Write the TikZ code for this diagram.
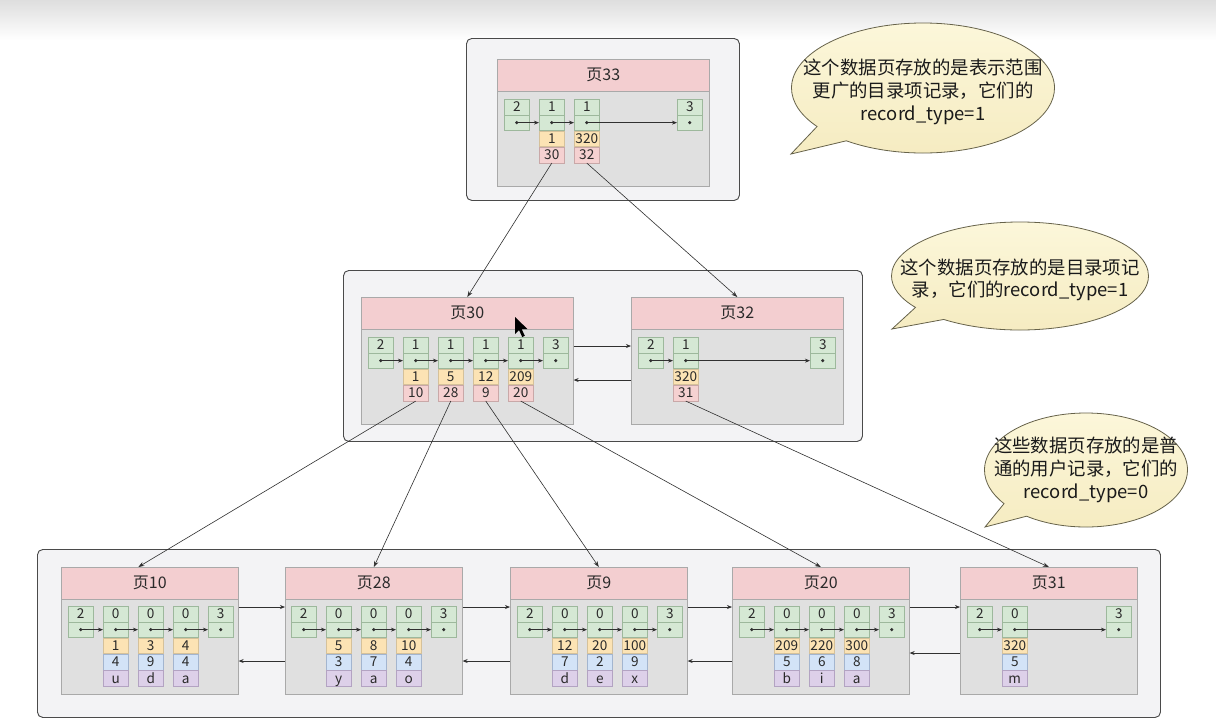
\documentclass[tikz,border=0pt]{standalone}
\usepackage{fontspec}
\setmainfont{Noto Sans CJK SC}
\usetikzlibrary{calc,arrows.meta,shapes.geometric,shapes.callouts}
\definecolor{headf}{HTML}{F3CED0}
\definecolor{pageb}{HTML}{A9A9A9}
\definecolor{bodyf}{HTML}{E0E0E0}
\definecolor{gf}{HTML}{D5E8D4}
\definecolor{gb}{HTML}{9DB89C}
\definecolor{yf}{HTML}{FCE3B4}
\definecolor{yb}{HTML}{D5C19A}
\definecolor{pf}{HTML}{F5D1D1}
\definecolor{pb}{HTML}{C9A8A8}
\definecolor{bf}{HTML}{D3E3F7}
\definecolor{bb}{HTML}{A3B5CF}
\definecolor{vf}{HTML}{DDD0E9}
\definecolor{vb}{HTML}{B3A3C2}
\definecolor{contf}{HTML}{F3F3F5}
\definecolor{contb}{HTML}{4A4A4A}
\definecolor{arrc}{HTML}{303030}
\definecolor{txt}{HTML}{2A2A2A}
\definecolor{bubt}{HTML}{FCF7DA}
\definecolor{bubbo}{HTML}{F5EBC0}
\definecolor{bubb}{HTML}{66624A}
\definecolor{btxt}{HTML}{1A1A1A}
\newcommand\numfont{\fontsize{10.2}{11}\selectfont}
\newcommand\gcell[4]{%
  \node[gbox] (#1) at (#2,#3) {};
  \draw[draw=gb, line width=0.4pt] (#1.west) -- (#1.east);
  \node[num] (#1t) at ($(#1.north)!0.25!(#1.south)$) {#4};
  \coordinate (#1d) at ($(#1.north)!0.75!(#1.south)$);
  \fill[arrc] (#1d) circle (1.7);
}
\newcommand\subc[4]{\node[#3] (#1) at (#2.south) {#4};}
\newcommand\chain[2]{\draw[iarr] (#1d) -- (#2.west |- #1d);}
\newcommand\pagebox[5]{%
  \node[pbody, minimum width=#4*0.75pt] (b#1) at (#2,#3+32) {};
  \node[phead, minimum width=#4*0.75pt] (h#1) at (#2,#3) {#5};
}
\begin{document}
\begin{tikzpicture}[x=0.75pt,y=-0.75pt,
  cont/.style={draw=contb, fill=contf, rounded corners=4pt, line width=0.7pt, anchor=north west, inner sep=0},
  phead/.style={draw=pageb, fill=headf, anchor=north west, inner sep=0, line width=0.45pt, minimum height=24pt, font=\fontsize{12}{14}\selectfont, text=txt},
  pbody/.style={draw=pageb, fill=bodyf, anchor=north west, inner sep=0, line width=0.45pt, minimum height=71.25pt},
  gbox/.style={draw=gb, fill=gf, minimum width=18.75pt, minimum height=23.25pt, anchor=north west, inner sep=0, line width=0.4pt},
  num/.style={font=\numfont, inner sep=0, text=txt, text height=7.2pt, text depth=0pt},
  sub/.style={minimum width=18.75pt, minimum height=11.8pt, anchor=north, inner sep=0, line width=0.4pt, font=\numfont, text=txt, text height=7.2pt, text depth=0pt},
  ycell/.style={sub, draw=yb, fill=yf},
  pcell/.style={sub, draw=pb, fill=pf},
  bcell/.style={sub, draw=bb, fill=bf},
  vcell/.style={sub, draw=vb, fill=vf},
  iarr/.style={draw=arrc, line width=0.5pt, -{Stealth[length=3.8pt,width=3pt]}},
  conn/.style={draw=arrc, line width=0.45pt, -{Stealth[length=4.5pt,width=3.2pt]}},
  bubble/.style={ellipse callout, draw=bubb, line width=0.6pt, top color=bubt, bottom color=bubbo, inner sep=0, callout pointer arc=18},
  bubtext/.style={align=center, font=\fontsize{13.8}{17}\selectfont, text=btxt, inner sep=0}
]
\useasboundingbox (0,0) rectangle (1216,725);
\fill[white] (0,0) rectangle (1216,725);
\shade[top color=black!13, bottom color=white] (0,0) rectangle (1216,40);

% containers
\node[cont, minimum width=273*0.75pt, minimum height=162*0.75pt] (C1) at (466,38) {};
\node[cont, minimum width=519*0.75pt, minimum height=171*0.75pt] (C2) at (343,270) {};
\node[cont, minimum width=1123*0.75pt, minimum height=168*0.75pt] (C3) at (37,549) {};

% ---------- page 33 ----------
\pagebox{33}{497}{59}{212}{页33}
\gcell{g33a}{504}{99}{2}
\gcell{g33b}{539}{99}{1}
\gcell{g33c}{574}{99}{1}
\gcell{g33d}{677}{99}{3}
\subc{y33b}{g33b}{ycell}{1}\subc{p33b}{y33b}{pcell}{30}
\subc{y33c}{g33c}{ycell}{320}\subc{p33c}{y33c}{pcell}{32}
\chain{g33a}{g33b}\chain{g33b}{g33c}\chain{g33c}{g33d}

% ---------- page 30 ----------
\pagebox{30}{361}{297}{212}{页30}
\gcell{g30a}{368}{337}{2}
\gcell{g30b}{403}{337}{1}
\gcell{g30c}{438}{337}{1}
\gcell{g30d}{473}{337}{1}
\gcell{g30e}{508}{337}{1}
\gcell{g30f}{543}{337}{3}
\subc{y30b}{g30b}{ycell}{1}\subc{p30b}{y30b}{pcell}{10}
\subc{y30c}{g30c}{ycell}{5}\subc{p30c}{y30c}{pcell}{28}
\subc{y30d}{g30d}{ycell}{12}\subc{p30d}{y30d}{pcell}{9}
\subc{y30e}{g30e}{ycell}{209}\subc{p30e}{y30e}{pcell}{20}
\chain{g30a}{g30b}\chain{g30b}{g30c}\chain{g30c}{g30d}\chain{g30d}{g30e}\chain{g30e}{g30f}

% ---------- page 32 ----------
\pagebox{32}{631}{297}{212}{页32}
\gcell{g32a}{638}{337}{2}
\gcell{g32b}{673}{337}{1}
\gcell{g32c}{810}{337}{3}
\subc{y32b}{g32b}{ycell}{320}\subc{p32b}{y32b}{pcell}{31}
\chain{g32a}{g32b}\chain{g32b}{g32c}

\draw[iarr] ($(b30.north east)+(0,17)$) -- ($(b32.north west)+(0,17)$);
\draw[iarr] ($(b32.north west)+(0,51)$) -- ($(b30.north east)+(0,51)$);

% ---------- page 10 ----------
\pagebox{10}{61}{567}{177}{页10}
\gcell{g10a}{68}{606}{2}
\gcell{g10b}{103}{606}{0}
\gcell{g10c}{138}{606}{0}
\gcell{g10d}{173}{606}{0}
\gcell{g10e}{208}{606}{3}
\subc{y10b}{g10b}{ycell}{1}\subc{u10b}{y10b}{bcell}{4}\subc{v10b}{u10b}{vcell}{u}
\subc{y10c}{g10c}{ycell}{3}\subc{u10c}{y10c}{bcell}{9}\subc{v10c}{u10c}{vcell}{d}
\subc{y10d}{g10d}{ycell}{4}\subc{u10d}{y10d}{bcell}{4}\subc{v10d}{u10d}{vcell}{a}
\chain{g10a}{g10b}\chain{g10b}{g10c}\chain{g10c}{g10d}\chain{g10d}{g10e}

% ---------- page 28 ----------
\pagebox{28}{285}{567}{177}{页28}
\gcell{g28a}{291}{606}{2}
\gcell{g28b}{326}{606}{0}
\gcell{g28c}{361}{606}{0}
\gcell{g28d}{396}{606}{0}
\gcell{g28e}{431}{606}{3}
\subc{y28b}{g28b}{ycell}{5}\subc{u28b}{y28b}{bcell}{3}\subc{v28b}{u28b}{vcell}{y}
\subc{y28c}{g28c}{ycell}{8}\subc{u28c}{y28c}{bcell}{7}\subc{v28c}{u28c}{vcell}{a}
\subc{y28d}{g28d}{ycell}{10}\subc{u28d}{y28d}{bcell}{4}\subc{v28d}{u28d}{vcell}{o}
\chain{g28a}{g28b}\chain{g28b}{g28c}\chain{g28c}{g28d}\chain{g28d}{g28e}

% ---------- page 9 ----------
\pagebox{9}{510}{567}{177}{页9}
\gcell{g9a}{517}{606}{2}
\gcell{g9b}{552}{606}{0}
\gcell{g9c}{587}{606}{0}
\gcell{g9d}{622}{606}{0}
\gcell{g9e}{657}{606}{3}
\subc{y9b}{g9b}{ycell}{12}\subc{u9b}{y9b}{bcell}{7}\subc{v9b}{u9b}{vcell}{d}
\subc{y9c}{g9c}{ycell}{20}\subc{u9c}{y9c}{bcell}{2}\subc{v9c}{u9c}{vcell}{e}
\subc{y9d}{g9d}{ycell}{100}\subc{u9d}{y9d}{bcell}{9}\subc{v9d}{u9d}{vcell}{x}
\chain{g9a}{g9b}\chain{g9b}{g9c}\chain{g9c}{g9d}\chain{g9d}{g9e}

% ---------- page 20 ----------
\pagebox{20}{732}{567}{177}{页20}
\gcell{g20a}{739}{606}{2}
\gcell{g20b}{774}{606}{0}
\gcell{g20c}{809}{606}{0}
\gcell{g20d}{844}{606}{0}
\gcell{g20e}{879}{606}{3}
\subc{y20b}{g20b}{ycell}{209}\subc{u20b}{y20b}{bcell}{5}\subc{v20b}{u20b}{vcell}{b}
\subc{y20c}{g20c}{ycell}{220}\subc{u20c}{y20c}{bcell}{6}\subc{v20c}{u20c}{vcell}{i}
\subc{y20d}{g20d}{ycell}{300}\subc{u20d}{y20d}{bcell}{8}\subc{v20d}{u20d}{vcell}{a}
\chain{g20a}{g20b}\chain{g20b}{g20c}\chain{g20c}{g20d}\chain{g20d}{g20e}

% ---------- page 31 ----------
\pagebox{31}{960}{567}{177}{页31}
\gcell{g31a}{967}{606}{2}
\gcell{g31b}{1002}{606}{0}
\gcell{g31c}{1106}{606}{3}
\subc{y31b}{g31b}{ycell}{320}\subc{u31b}{y31b}{bcell}{5}\subc{v31b}{u31b}{vcell}{m}
\chain{g31a}{g31b}\chain{g31b}{g31c}

% sibling links between leaf pages
\draw[iarr] ($(b10.north east)+(0,8)$) -- ($(b28.north west)+(0,8)$);
\draw[iarr] ($(b28.north west)+(0,62)$) -- ($(b10.north east)+(0,62)$);
\draw[iarr] ($(b28.north east)+(0,8)$) -- ($(b9.north west)+(0,8)$);
\draw[iarr] ($(b9.north west)+(0,62)$) -- ($(b28.north east)+(0,62)$);
\draw[iarr] ($(b9.north east)+(0,8)$) -- ($(b20.north west)+(0,8)$);
\draw[iarr] ($(b20.north west)+(0,62)$) -- ($(b9.north east)+(0,62)$);
\draw[iarr] ($(b20.north east)+(0,8)$) -- ($(b31.north west)+(0,8)$);
\draw[iarr] ($(b31.north west)+(0,54)$) -- ($(b20.north east)+(0,54)$);

% parent -> child connectors
\draw[conn] (p33b.south) -- (h30.north);
\draw[conn] (p33c.south) -- (h32.north);
\draw[conn] (p30b.south) -- ([xshift=-8.6pt]h10.north);
\draw[conn] (p30c.south) -- (h28.north);
\draw[conn] (p30d.south) -- (h9.north);
\draw[conn] (p30e.south) -- (h20.north);
\draw[conn] (p32b.south) -- (h31.north);

% callouts
\node[bubble, minimum width=263*0.75pt, minimum height=130*0.75pt, callout absolute pointer={(791,154)}] (bub1) at (923,88) {};
\node[bubtext] (bt1) at (923,92) {这个数据页存放的是表示范围\\更广的目录项记录，它们的\\record\_type=1};
\node[bubble, minimum width=257*0.75pt, minimum height=108*0.75pt, callout absolute pointer={(892,329)}] (bub2) at (1020,276) {};
\node[bubtext] (bt2) at (1020,280) {这个数据页存放的是目录项记\\录，它们的record\_type=1};
\node[bubble, minimum width=203*0.75pt, minimum height=114*0.75pt, callout absolute pointer={(985,527)}] (bub3) at (1086,470) {};
\node[bubtext] (bt3) at (1086,470) {这些数据页存放的是普\\通的用户记录，它们的\\record\_type=0};

% mouse pointer
\fill[black] (515,317) -- ++(0,17) -- ++(4,-4) -- ++(3.2,7) -- ++(2.6,-1.2) -- ++(-3.2,-6.8) -- ++(5.8,0) -- cycle;
\end{tikzpicture}
\end{document}
